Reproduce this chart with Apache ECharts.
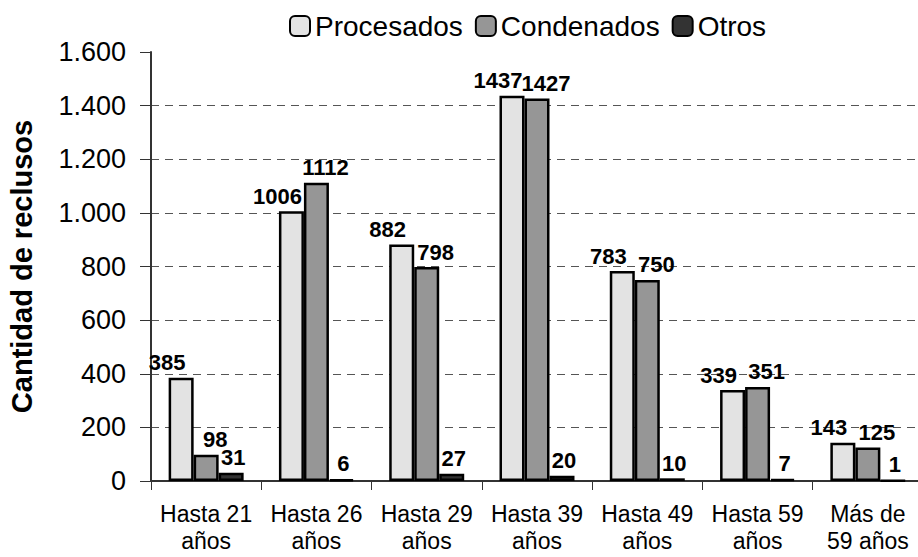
<!DOCTYPE html>
<html>
<head>
<meta charset="utf-8">
<script src="https://cdn.jsdelivr.net/npm/echarts@6/dist/echarts.min.js"></script>
<style>
  html, body { margin: 0; padding: 0; background: #fff; }
  #chart { width: 918px; height: 557px; }
</style>
</head>
<body>
<div id="chart"></div>
<script>
var categories = ['Hasta 21\naños', 'Hasta 26\naños', 'Hasta 29\naños', 'Hasta 39\naños', 'Hasta 49\naños', 'Hasta 59\naños', 'Más de\n59 años'];
var procesados = [385, 1006, 882, 1437, 783, 339, 143];
var condenados = [98, 1112, 798, 1427, 750, 351, 125];
var otros = [31, 6, 27, 20, 10, 7, 1];

var font = "'Liberation Sans', Arial, sans-serif";

// labels in the original sit a bit off-centre so neighbours don't collide
function barSeries(name, data, color, dx) {
  return {
    name: name,
    type: 'bar',
    data: data,
    barGap: '0%',
    barCategoryGap: '32%',
    itemStyle: { color: color, borderColor: '#000', borderWidth: 2.5 },
    label: {
      show: true,
      position: 'top',
      distance: 4,
      offset: [dx, 0],
      fontFamily: font,
      fontWeight: 'bold',
      fontSize: 22,
      color: '#000'
    }
  };
}

var chart = echarts.init(document.getElementById('chart'), null, { renderer: 'svg' });
chart.setOption({
  animation: false,
  backgroundColor: '#fff',
  legend: {
    top: 7,
    left: 284,
    itemWidth: 20,
    itemHeight: 20,
    itemGap: 12,
    textStyle: { fontFamily: font, fontSize: 28, color: '#000' },
    data: ['Procesados', 'Condenados', 'Otros']
  },
  grid: { left: 151, right: -5, top: 52, bottom: 76, outerBoundsMode: 'none' },
  xAxis: {
    type: 'category',
    data: categories,
    axisLine: { lineStyle: { color: '#333', width: 2 } },
    axisTick: { show: true, length: 9, lineStyle: { color: '#333' } },
    axisLabel: { interval: 0, fontFamily: font, fontSize: 23, color: '#000', margin: 19, lineHeight: 27 }
  },
  yAxis: {
    type: 'value',
    min: 0,
    max: 1600,
    interval: 200,
    name: 'Cantidad de reclusos',
    nameLocation: 'middle',
    nameGap: 115,
    nameTextStyle: { fontFamily: font, fontSize: 29, fontWeight: 'bold', color: '#000' },
    axisLine: { show: true, lineStyle: { color: '#333', width: 2 } },
    axisTick: { show: true, length: 11, lineStyle: { color: '#333' } },
    axisLabel: {
      fontFamily: font, fontSize: 27, color: '#000', margin: 25,
      formatter: function (v) { return String(v).replace(/\B(?=(\d{3})+(?!\d))/g, '.'); }
    },
    splitLine: { show: true, showMaxLine: false, lineStyle: { color: '#555', type: [8, 6], width: 1 } }
  },
  series: [
    barSeries('Procesados', procesados, '#e3e3e3', -14),
    barSeries('Condenados', condenados, '#969696', 9),
    barSeries('Otros', otros, '#333333', 2)
  ]
});
</script>
</body>
</html>
